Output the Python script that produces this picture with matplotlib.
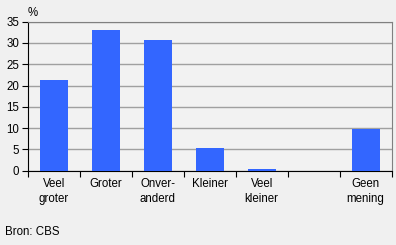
import matplotlib.pyplot as plt
import numpy as np

plt.rcParams['font.family'] = ['Liberation Sans', 'DejaVu Sans']
plt.rcParams['font.size'] = 8.3

# Data
categories = ["Veel\ngroter", "Groter", "Onver-\nanderd", "Kleiner", "Veel\nkleiner", "", "Geen\nmening"]
values = [21.3, 33.0, 30.7, 5.3, 0.4, 0.0, 9.7]
yticks = [0, 5, 10, 15, 20, 25, 30, 35]

fig = plt.figure(figsize=(3.96, 2.45), dpi=100, facecolor="#f0f0f0")
ax = fig.add_axes([27.7 / 396, 1 - 170.7 / 245, (391.7 - 27.7) / 396, (170.7 - 21.7) / 245])
ax.set_facecolor("#f2f2f2")

x = np.arange(len(categories))
ax.bar(x, values, width=0.545, color="#3366ff", zorder=3)

ax.set_xlim(-0.5, len(categories) - 0.5)
ax.set_ylim(0, 35)
ax.set_yticks(yticks)
ax.yaxis.grid(True, color="#a0a0a0", linewidth=1, zorder=0)

# category labels between boundary ticks
ax.set_xticks(np.arange(len(categories) + 1) - 0.5)
ax.set_xticklabels([])
ax.set_xticks(x, minor=True)
ax.set_xticklabels(categories, minor=True, linespacing=1.4, va="top")
ax.tick_params(axis="x", which="minor", length=0, pad=5)
ax.tick_params(axis="x", which="major", length=4, direction="out", color="black")
ax.tick_params(axis="y", length=4, direction="out", pad=2)

for s in ["top", "right"]:
    ax.spines[s].set_color("#808080")
for s in ["left", "bottom"]:
    ax.spines[s].set_color("black")

fig.text(28 / 396, 1 - 13 / 245, "%", ha="left", va="center")
fig.text(5 / 396, 1 - 232 / 245, "Bron: CBS", ha="left", va="center")

fig.savefig("out.png", dpi=100, facecolor=fig.get_facecolor())
